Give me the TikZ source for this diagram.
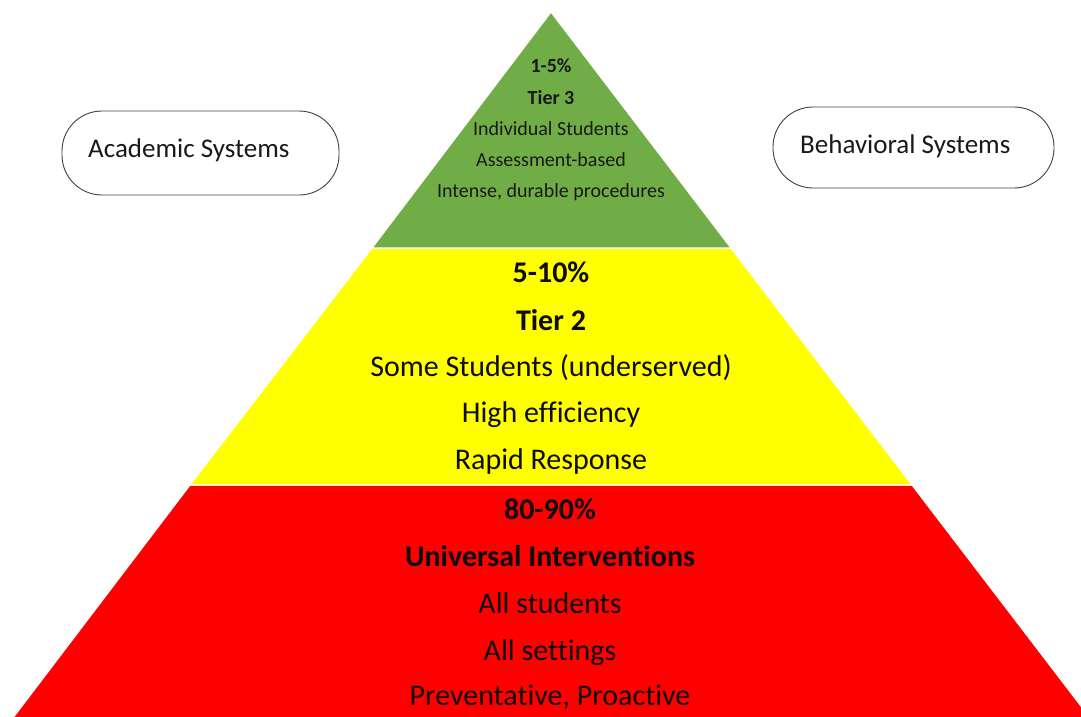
\documentclass[tikz,border=0pt]{standalone}
\usepackage{fontspec}
\setmainfont[Ligatures=NoCommon]{Carlito}
\definecolor{tgreen}{HTML}{70AD47}
\definecolor{tyellow}{HTML}{FFFF00}
\definecolor{tred}{HTML}{FF0000}
\begin{document}
\begin{tikzpicture}[x=1pt,y=-1pt,
  layer/.style={draw=white,line width=1.2pt},
  small/.style={font=\fontsize{20}{24}\selectfont,anchor=base,inner sep=0pt,text=black!90},
  big/.style={font=\fontsize{30}{36}\selectfont,anchor=base,inner sep=0pt,text=black!95},
  oval/.style={draw=black!75,line width=0.9pt,rounded corners=40pt,minimum width=#1,inner sep=0pt},
  ovtext/.style={font=\fontsize{27}{32}\selectfont,anchor=base west,inner sep=0pt,text=black!90}]
\useasboundingbox (0,0) rectangle (1081,717);
% tiers
\fill[tred,layer] (190,485) -- (912,485) -- (1097,727) -- (6,727) -- cycle;
\fill[tyellow,layer] (372,248) -- (731,248) -- (912,485) -- (190,485) -- cycle;
\fill[tgreen,layer] (551,12) -- (731,248) -- (372,248) -- cycle;
% tier 3 text
\node[small] (t3a) at (551,73) {\bfseries 1-5\%};
\node[small] (t3b) at (551,104) {\bfseries Tier 3};
\node[small] (t3c) at (551,135) {Individual Students};
\node[small] (t3d) at (551,166) {Assessment-based};
\node[small] (t3e) at (551,197) {Intense, durable procedures};
% tier 2 text
\node[big] (t2a) at (551,282) {\bfseries 5-10\%};
\node[big] (t2b) at (551,330) {\bfseries Tier 2};
\node[big] (t2c) at (551,376) {Some Students (underserved)};
\node[big] (t2d) at (551,422) {High efficiency};
\node[big] (t2e) at (551,469) {Rapid Response};
% tier 1 text
\node[big] (t1a) at (550,519) {\bfseries 80-90\%};
\node[big] (t1b) at (550,566) {\bfseries Universal Interventions};
\node[big] (t1c) at (550,613) {All students};
\node[big] (t1d) at (550,660) {All settings};
\node[big] (t1e) at (550,705) {Preventative, Proactive};
% side ovals
\node[oval=277pt,minimum height=84pt] (acad) at (200.5,153) {};
\node[ovtext] (acadt) at (88,157) {Academic Systems};
\node[oval=281pt,minimum height=81pt] (behav) at (913.5,147.5) {};
\node[ovtext] (behavt) at (800,153) {Behavioral Systems};
\end{tikzpicture}
\end{document}
